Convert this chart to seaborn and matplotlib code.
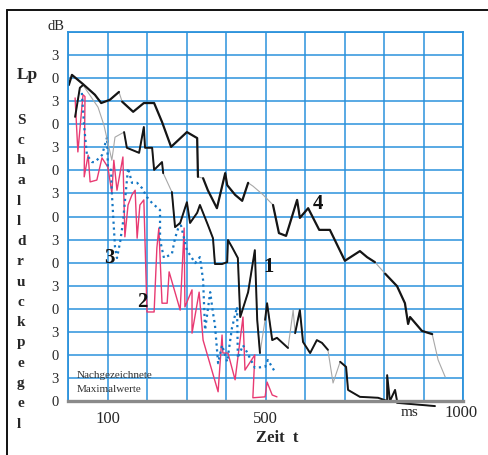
import matplotlib
matplotlib.use("Agg")
import pandas as pd
import matplotlib.pyplot as plt
import seaborn as sns
from matplotlib.lines import Line2D

# -----------------------------
# Traced maximum values (time in ms, level in dB, 5 dB per grid step)
# -----------------------------

# Curve 4 - upper black trace
t4 = [0, 2, 10, 38, 68, 84, 106, 129, 137, 165, 192, 218, 238, 261, 301, 327,
      329, 342, 354, 377, 398, 403, 423, 441, 456, 468, 494, 519, 534, 552, 560,
      580, 587, 608, 636, 663, 701, 739, 757, 777, 803, 833, 853, 861, 866, 896,
      922, 937, 955]
lp4 = [74.5, 68.5, 70.7, 68.7, 66.4, 64.6, 65.3, 67.0, 64.9, 62.7, 64.6, 64.6,
       60.5, 55.1, 58.3, 57.0, 48.6, 48.3, 45.7, 41.8, 49.4, 46.8, 44.7, 43.4,
       47.3, 46.6, 44.7, 42.5, 36.4, 35.8, 38.0, 43.6, 39.7, 41.8, 37.1, 37.1,
       30.4, 32.5, 31.2, 30.1, 27.6, 24.9, 21.2, 16.7, 18.2, 15.2, 14.5, 8.9, 5.2]

# Curve 1 - second black trace
t1 = [18, 30, 38, 76, 91, 111, 119, 142, 149, 180, 192, 195, 213, 218, 238, 241,
      263, 271, 284, 301, 309, 327, 334, 354, 367, 372, 390, 403, 405, 415, 430,
      436, 456, 473, 479, 486, 499, 504, 511, 517, 529, 557, 570, 575, 587, 595,
      613, 630, 643, 658, 671, 689, 704, 709, 739, 785, 808, 808, 815, 828, 833,
      833, 929]
lp1 = [61.6, 67.9, 68.5, 63.7, 59.8, 52.2, 57.2, 58.3, 54.9, 53.8, 59.4, 54.9,
       54.9, 50.1, 51.8, 49.4, 45.3, 37.7, 38.6, 43.1, 38.6, 40.8, 42.5, 38.2,
       35.3, 29.7, 29.7, 30.1, 34.9, 33.4, 31.0, 18.2, 23.6, 32.7, 17.6, 10.4,
       17.6, 21.2, 16.9, 13.2, 13.7, 11.5, 19.7, 14.7, 19.7, 12.8, 10.4, 13.2,
       12.6, 11.1, 3.9, 8.5, 7.4, 2.4, 0.9, 0.7, 0.0, 5.6, 0.0, 2.4, 0.0,
       -0.4, -1.1]

# Curve 2 - red trace
t2 = [18, 25, 38, 43, 41, 51, 56, 73, 86, 101, 111, 116, 124, 139, 144, 152,
      162, 170, 175, 182, 192, 200, 218, 225, 230, 238, 251, 256, 284, 294, 296,
      314, 314, 332, 342, 380, 390, 392, 405, 423, 443, 448, 473, 468, 499, 504,
      517, 529]
lp2 = [65.7, 54.0, 66.4, 66.0, 48.6, 53.3, 47.5, 47.9, 52.7, 50.7, 45.1, 52.2,
       45.7, 52.9, 35.6, 42.5, 44.7, 45.7, 35.3, 42.5, 43.6, 19.3, 19.3, 33.2,
       37.5, 21.2, 21.2, 28.0, 19.7, 37.5, 20.4, 24.1, 14.7, 23.6, 13.2, 2.0,
       14.3, 10.4, 10.4, 4.6, 18.2, 6.7, 10.0, 0.7, 0.9, 4.1, 1.3, 0.9]

# Curve 3 - blue dotted trace
t3 = [35, 41, 48, 61, 68, 86, 99, 101, 109, 111, 116, 119, 124, 132, 139, 152,
      162, 175, 187, 200, 213, 233, 233, 243, 263, 271, 284, 301, 322, 334, 342,
      347, 360, 367, 372, 380, 390, 403, 415, 428, 430, 443, 453, 473, 499, 506,
      524]
lp3 = [66.8, 59.4, 53.3, 51.8, 51.8, 53.3, 57.2, 50.7, 50.1, 45.1, 37.7, 33.4,
       31.0, 34.5, 38.6, 50.5, 47.3, 47.3, 46.2, 44.2, 42.9, 41.4, 34.9, 31.0,
       31.9, 35.3, 38.8, 32.7, 29.9, 31.2, 26.2, 15.4, 23.6, 19.1, 16.5, 8.2,
       12.1, 8.5, 15.8, 20.4, 9.3, 12.1, 10.6, 7.2, 7.4, 8.9, 6.3]

# index ranges of the black curves that are drawn dark (rest is faded grey)
dark4 = [(1, 7), (8, 16), (17, 24), (27, 39), (40, 46)]
dark1 = [(0, 2), (7, 15), (16, 35), (36, 41), (43, 49), (51, 62)]

# curve numbers: (label, time, level)
curve_labels = [("3", 106, 31.0), ("2", 187, 21.5), ("1", 509, 29.1), ("4", 633, 42.7)]

x_ticks = list(range(0, 1001, 100))
x_labels = ["", "100", "", "", "", "500", "", "", "", "", ""]
y_ticks = list(range(0, 81, 5))
y_labels = ["0" if i % 2 == 0 else "3" for i in range(16)] + [""]
axis_word = "Schalldruckpegel"

# -----------------------------
# PLOT
# -----------------------------
sns.set_style("white")
plt.rcParams["font.family"] = ["Liberation Serif", "DejaVu Serif"]

W, H = 488, 455
fig = plt.figure(figsize=(W / 100, H / 100), dpi=100)
ax = fig.add_axes([68 / W, 1 - 401 / H, 395 / W, 369 / H])

grid_blue = "#2b92dc"
black_line = "#151515"
fade_grey = "#a8a8a8"

df4 = pd.DataFrame({"t": t4, "lp": lp4})
df1 = pd.DataFrame({"t": t1, "lp": lp1})
df2 = pd.DataFrame({"t": t2, "lp": lp2})
df3 = pd.DataFrame({"t": t3, "lp": lp3})

sns.lineplot(data=df2, x="t", y="lp", sort=False, estimator=None,
             color="#e83a72", lw=1.0, ax=ax)
sns.lineplot(data=df3, x="t", y="lp", sort=False, estimator=None,
             color="#1577c4", lw=1.6, linestyle=":", ax=ax)

# black curves: faded base line, dark parts on top
for df, dark, lw in [(df1, dark1, 1.4), (df4, dark4, 1.6)]:
    sns.lineplot(data=df, x="t", y="lp", sort=False, estimator=None,
                 color=fade_grey, lw=0.8, ax=ax, clip_on=False)
    for a, b in dark:
        part = df.iloc[a:b + 1]
        ax.plot(part["t"], part["lp"], color=black_line, lw=lw, clip_on=False)

for lab, tx, ty in curve_labels:
    ax.text(tx, ty, lab, fontsize=15, fontweight="bold", ha="center",
            va="center", color="#111111")

ax.text(23, 5.6, "Nachgezeichnete", fontsize=8, ha="left", va="center", color="#333333")
ax.text(23, 2.6, "Maximalwerte", fontsize=8, ha="left", va="center", color="#333333")

ax.set_xlim(0, 1000)
ax.set_ylim(0, 80)
ax.set_xticks(x_ticks)
ax.set_xticklabels(x_labels, fontsize=12)
ax.set_yticks(y_ticks)
ax.set_yticklabels(y_labels, fontsize=10.5)
ax.set_xlabel("")
ax.set_ylabel("")
ax.tick_params(axis="both", length=3, color=grid_blue, pad=4)
ax.grid(True, color=grid_blue, lw=1.1)
ax.set_axisbelow(True)
for s in ax.spines.values():
    s.set_color(grid_blue)
    s.set_linewidth(1.3)
ax.spines["bottom"].set_color("#8a8a8a")
ax.spines["bottom"].set_linewidth(2.4)


def fpos(x, y):
    return x / W, 1 - y / H


# outer frame
fig.add_artist(Line2D([7 / W, 7 / W], [0, 1 - 10 / H], color="#111111", lw=1.4))
fig.add_artist(Line2D([7 / W, 1], [1 - 10 / H, 1 - 10 / H], color="#111111", lw=1.4))

# axis texts
fig.text(*fpos(47, 26), "dB", fontsize=10.5, ha="left", va="center")
fig.text(*fpos(17, 75), "Lp", fontsize=12.5, fontweight="bold", ha="left", va="center")
for i, ch in enumerate(axis_word):
    fig.text(*fpos(17, 120 + i * 20.27), ch, fontsize=11, fontweight="bold",
             ha="left", va="center")
fig.text(*fpos(461, 413), "1000", fontsize=12, ha="center", va="center")
fig.text(*fpos(410, 413), "ms", fontsize=11, ha="center", va="center")
fig.text(*fpos(277, 438), "Zeit  t", fontsize=12, fontweight="bold", ha="center", va="center")

fig.savefig("out.png", dpi=100)
